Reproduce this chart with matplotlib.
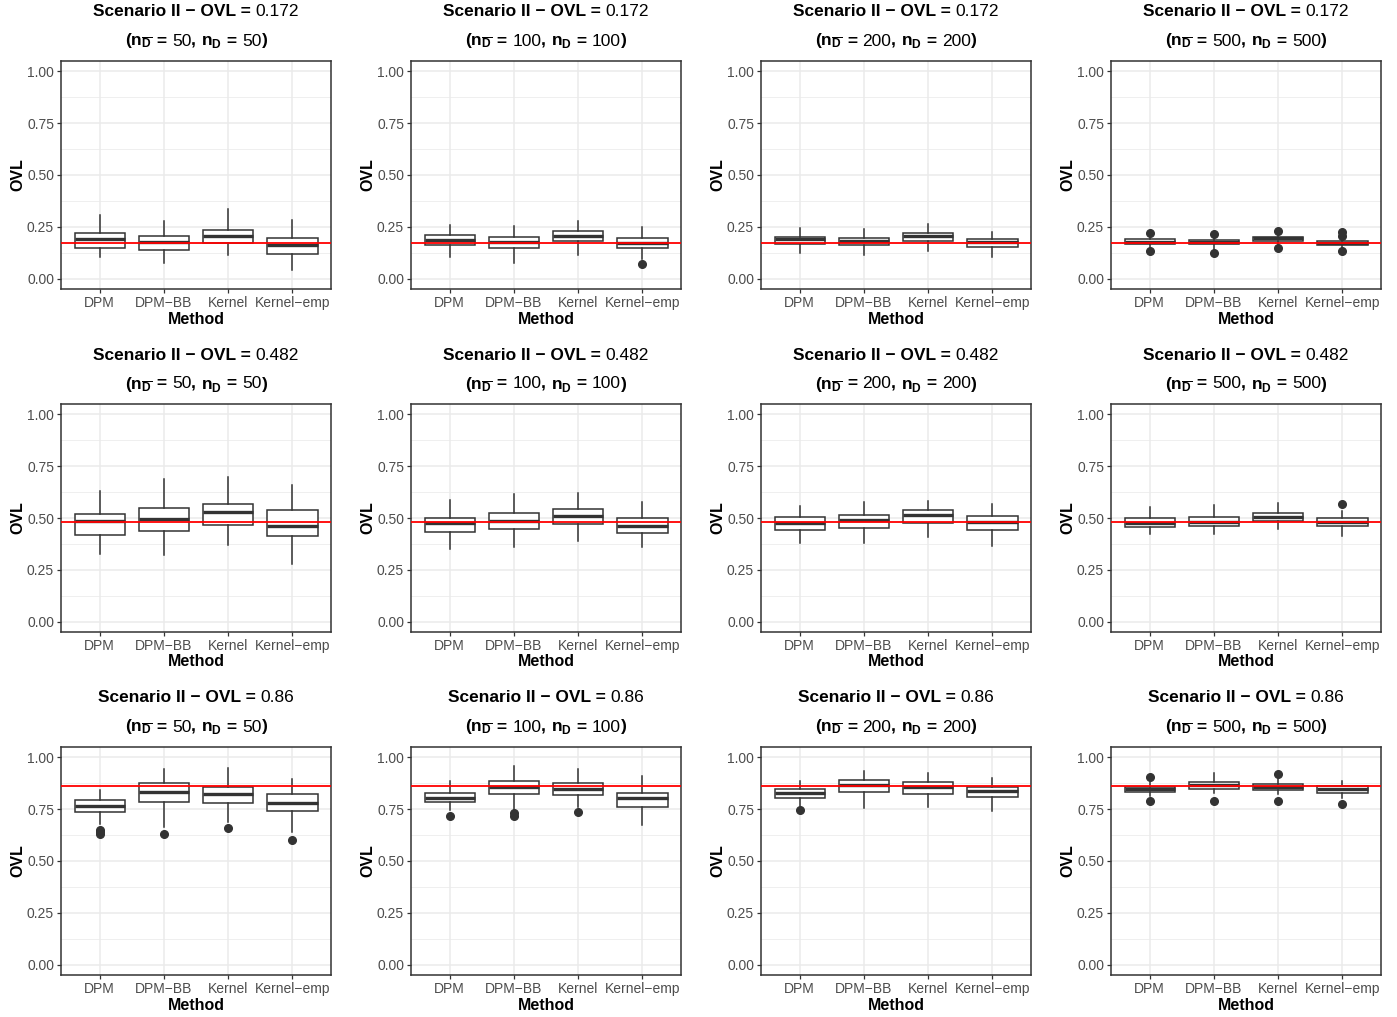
"""Simulation summary: OVL estimates by method, scenario II (3 true OVL x 4 sample sizes)."""

import matplotlib
matplotlib.use("Agg")
import matplotlib.pyplot as plt
from matplotlib.offsetbox import AnnotationBbox, HPacker, TextArea

plt.rcParams["font.family"] = ["Liberation Sans", "DejaVu Sans"]
plt.rcParams["mathtext.fontset"] = "custom"
plt.rcParams["mathtext.rm"] = "Liberation Sans"
plt.rcParams["mathtext.bf"] = "Liberation Sans:bold"

methods = ["DPM", "DPM\u2212BB", "Kernel", "Kernel\u2212emp"]
ovl_true = [0.172, 0.482, 0.86]
ovl_text = ["0.172", "0.482", "0.86"]
n_sizes = [50, 100, 200, 500]

# box stats, indexed [true OVL][sample size][method]
whis_lo = [
    [[.102, .076, .115, .044], [.106, .074, .114, .093], [.125, .114, .131, .106], [.145, .145, .160, .145]],
    [[.326, .323, .371, .277], [.350, .361, .387, .358], [.378, .378, .410, .367], [.423, .423, .447, .415]],
    [[.678, .662, .686, .639], [.745, .745, .761, .673], [.766, .758, .761, .742], [.815, .826, .823, .806]],
]
q1 = [
    [[.150, .140, .172, .121], [.162, .149, .181, .149], [.168, .160, .183, .155], [.165, .165, .181, .163]],
    [[.419, .439, .465, .413], [.434, .445, .471, .429], [.444, .452, .478, .444], [.458, .460, .487, .460]],
    [[.734, .787, .779, .740], [.784, .824, .818, .760], [.806, .831, .823, .810], [.832, .847, .842, .826]],
]
med = [
    [[.189, .178, .205, .163], [.186, .175, .205, .173], [.191, .181, .205, .178], [.179, .176, .194, .174]],
    [[.487, .495, .529, .460], [.477, .485, .511, .461], [.474, .490, .514, .481], [.476, .482, .506, .482]],
    [[.764, .831, .822, .782], [.802, .855, .845, .803], [.827, .866, .855, .839], [.847, .865, .858, .845]],
]
q3 = [
    [[.218, .208, .237, .198], [.212, .202, .229, .194], [.202, .196, .218, .192], [.189, .185, .203, .182]],
    [[.521, .550, .568, .540], [.498, .523, .544, .500], [.503, .514, .537, .508], [.498, .503, .522, .500]],
    [[.793, .877, .857, .825], [.827, .884, .874, .829], [.847, .890, .879, .858], [.858, .879, .871, .861]],
]
whis_hi = [
    [[.306, .279, .334, .282], [.258, .255, .279, .250], [.244, .240, .263, .224], [.210, .205, .222, .200]],
    [[.632, .690, .697, .661], [.587, .616, .619, .579], [.559, .579, .583, .567], [.551, .564, .571, .535]],
    [[.841, .944, .949, .898], [.884, .960, .942, .910], [.884, .935, .923, .900], [.879, .926, .895, .887]],
]
outliers = [
    [[[], [], [], []], [[], [], [], [.071]], [[], [], [], []],
     [[.221, .132], [.213, .126], [.232, .148], [.223, .208, .131]]],
    [[[], [], [], []], [[], [], [], []], [[], [], [], []],
     [[], [], [], [.567]]],
    [[[.650, .638, .631], [.631], [.658], [.602]],
     [[.718], [.731, .719], [.737], []],
     [[.745], [], [], []],
     [[.903, .790], [.790], [.919, .790], [.774]]],
]

W, H = 1397, 1017
fig = plt.figure(figsize=(W / 100, H / 100), dpi=100)

lefts = [61, 411, 761, 1111]
tops = [61, 404, 747]
pw, ph = 270, 228
dark = "#333333"
TS = 12.5  # title font size


def title_line(fig, x, y, parts):
    """parts: list of (text, bold) pieces packed side by side on one baseline."""
    boxes = [TextArea(t, textprops=dict(fontsize=TS, color="black",
                                        fontweight="bold" if b else "normal"))
             for t, b in parts]
    pack = HPacker(children=boxes, align="baseline", pad=0, sep=0)
    ab = AnnotationBbox(pack, (x, y), xycoords="figure fraction", frameon=False,
                        box_alignment=(0.5, 0.5), pad=0)
    fig.add_artist(ab)


for r in range(3):
    for c in range(4):
        x0, y0 = lefts[c], tops[r]
        ax = fig.add_axes([x0 / W, 1 - (y0 + ph) / H, pw / W, ph / H])

        stats = []
        for m in range(4):
            stats.append(dict(whislo=whis_lo[r][c][m], q1=q1[r][c][m], med=med[r][c][m],
                              q3=q3[r][c][m], whishi=whis_hi[r][c][m],
                              fliers=outliers[r][c][m]))
        ax.bxp(stats, positions=[1, 2, 3, 4], widths=0.78, patch_artist=True,
               showcaps=False,
               boxprops=dict(facecolor="white", edgecolor=dark, linewidth=1.1),
               medianprops=dict(color=dark, linewidth=2.4, solid_capstyle="butt"),
               whiskerprops=dict(color=dark, linewidth=1.1),
               flierprops=dict(marker="o", markerfacecolor=dark, markeredgecolor=dark,
                               markersize=5.5, linestyle="none"))
        ax.axhline(ovl_true[r], color="red", linewidth=1.3, zorder=5)

        ax.set_xlim(0.4, 4.6)
        ax.set_ylim(-0.05, 1.05)
        ax.set_xticks([1, 2, 3, 4])
        ax.set_xticklabels(methods)
        ax.set_yticks([0, 0.25, 0.5, 0.75, 1.0])
        ax.set_yticklabels(["0.00", "0.25", "0.50", "0.75", "1.00"])
        ax.set_yticks([0.125, 0.375, 0.625, 0.875], minor=True)
        ax.tick_params(which="major", length=3, width=0.9, color=dark,
                       labelsize=10, labelcolor="#4D4D4D", pad=2)
        ax.tick_params(which="minor", length=0)
        ax.grid(which="major", color="#EBEBEB", linewidth=1.1)
        ax.grid(which="minor", axis="y", color="#EBEBEB", linewidth=0.55)
        ax.set_axisbelow(True)
        for sp in ax.spines.values():
            sp.set_color(dark)
            sp.set_linewidth(1.1)

        ax.set_ylabel("OVL", fontsize=11.5, fontweight="bold", labelpad=0)
        ax.yaxis.set_label_coords(-43 / pw, 0.5)
        ax.set_xlabel("Method", fontsize=11.5, fontweight="bold")
        ax.xaxis.set_label_coords(0.5, -30 / ph)
        ax.xaxis.label.set_va("center")
        ax.yaxis.label.set_va("center")

        cx = (x0 + pw / 2) / W
        n = str(n_sizes[c])
        title_line(fig, cx, 1 - (y0 - 49) / H,
                   [("Scenario II \u2212 OVL = ", True), (ovl_text[r], False)])
        title_line(fig, cx, 1 - (y0 - 20) / H,
                   [(r"$\mathbf{(n}_{\overline{\mathbf{D}}}$", True), (" = ", True), (n, False),
                    (", ", True), (r"$\mathbf{n}_{\mathbf{D}}$", True), (" = ", True),
                    (n, False), (")", True)])

fig.savefig("out.png", dpi=100)
